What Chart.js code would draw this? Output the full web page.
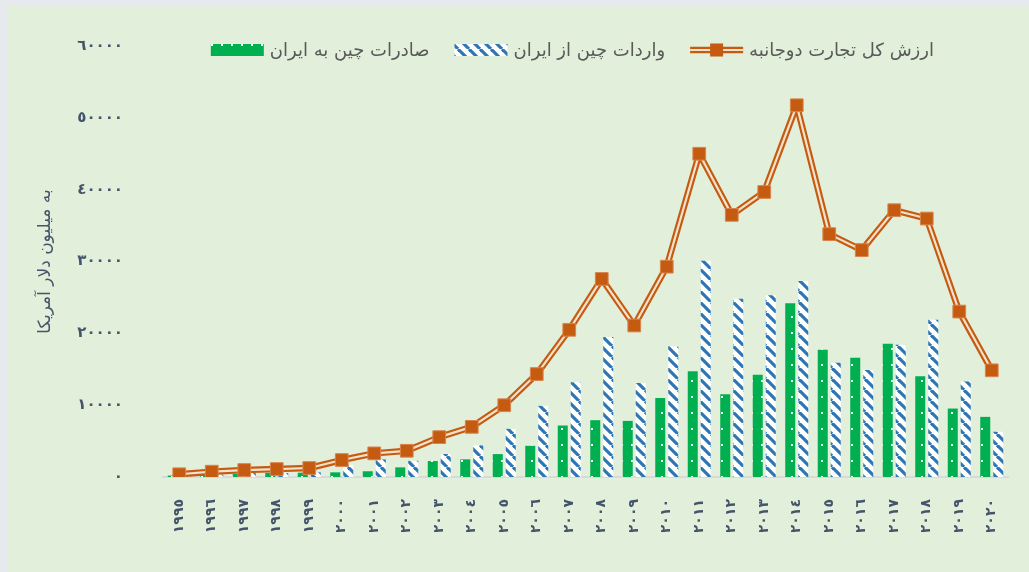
<!DOCTYPE html>
<html>
<head>
<meta charset="utf-8">
<script src="https://cdn.jsdelivr.net/npm/chart.js@4.4.1/dist/chart.umd.min.js"></script>
<style>
  html, body { margin: 0; padding: 0; background: #E6E9EE; }
  #wrap { position: absolute; left: 7px; top: 5px; width: 1022px; height: 567px; background: #E2EFDA; }
</style>
</head>
<body>
<div id="wrap"><canvas id="tradeChart"></canvas></div>
<script>
// --- Data (million USD) ---
const years = ['1995','1996','1997','1998','1999','2000','2001','2002','2003','2004','2005','2006','2007',
               '2008','2009','2010','2011','2012','2013','2014','2015','2016','2017','2018','2019','2020'];
const exportsToIran = [200, 400, 430, 580, 600, 650, 800, 1340, 2220, 2460, 3190, 4340, 7170,
                       7910, 7810, 11000, 14710, 11520, 14250, 24190, 17710, 16600, 18550, 14010, 9530, 8370];
const importsFromIran = [170, 340, 540, 530, 650, 1700, 2450, 2250, 3200, 4400, 6700, 9900, 13200,
                         19500, 13100, 18200, 30100, 24800, 25300, 27300, 15900, 14900, 18400, 21900, 13300, 6300];
const totalTrade = [380, 740, 970, 1110, 1250, 2360, 3290, 3650, 5550, 6980, 9990, 14330, 20490,
                    27570, 21090, 29280, 45000, 36490, 39680, 51750, 33810, 31590, 37140, 35980, 23030, 14850];
const yTicks = [0, 10000, 20000, 30000, 40000, 50000, 60000];

const labelExports = 'صادرات چین به ایران';
const labelImports = 'واردات چین از ایران';
const labelTotal = 'ارزش کل تجارت دوجانبه';
const yTitle = 'به میلیون دلار آمریکا';

const ORANGE = '#C55A11', ORANGE_IN = '#F3E1CC', GREEN = '#00B050', BLUE = '#2E75B6', TEXT = '#44546A';
const FONT = '"DejaVu Sans", sans-serif';

const toFa = v => String(v).replace(/\d/g, d => '٠١٢٣٤٥٦٧٨٩'[d]);

// --- Fill patterns ---
function dotPattern() {
    const c = document.createElement('canvas'); c.width = 10; c.height = 16;
    const g = c.getContext('2d');
    g.fillStyle = GREEN; g.fillRect(0, 0, 10, 16);
    g.fillStyle = '#FFFFFF'; g.fillRect(4, 7, 2, 2);
    return g.createPattern(c, 'repeat');
}
function hatchPattern() {
    const s = 11;
    const c = document.createElement('canvas'); c.width = s; c.height = s;
    const g = c.getContext('2d');
    g.fillStyle = '#FFFFFF'; g.fillRect(0, 0, s, s);
    g.strokeStyle = BLUE; g.lineWidth = 3.2;
    for (let k = -1; k <= 1; k++) { g.beginPath(); g.moveTo(k * s, 0); g.lineTo(k * s + s, s); g.stroke(); }
    return g.createPattern(c, 'repeat');
}
const greenFill = dotPattern();
const blueFill = hatchPattern();

// --- Legend drawn inside the plot, right to left like the original ---
const topLegend = {
    id: 'topLegend',
    afterDraw(chart) {
        const ctx = chart.ctx;
        const items = [
            { text: labelTotal, kind: 'line' },
            { text: labelImports, kind: 'hatch' },
            { text: labelExports, kind: 'dots' }
        ];
        ctx.save();
        ctx.font = '18px ' + FONT;
        ctx.textBaseline = 'middle';
        ctx.textAlign = 'right';
        let x = 927;
        const y = 45;
        items.forEach(it => {
            ctx.fillStyle = '#595959';
            ctx.fillText(it.text, x, y + 1);
            x -= ctx.measureText(it.text).width + 6;
            const sx = x - 53;
            if (it.kind === 'line') {
                ctx.strokeStyle = ORANGE; ctx.lineWidth = 6.5;
                ctx.beginPath(); ctx.moveTo(sx, y); ctx.lineTo(x, y); ctx.stroke();
                ctx.strokeStyle = ORANGE_IN; ctx.lineWidth = 2.2;
                ctx.beginPath(); ctx.moveTo(sx, y); ctx.lineTo(x, y); ctx.stroke();
                ctx.fillStyle = ORANGE; ctx.fillRect(sx + 20, y - 6.5, 13, 13);
            } else {
                ctx.fillStyle = it.kind === 'dots' ? greenFill : blueFill;
                ctx.fillRect(sx, y - 6, 53, 12);
            }
            x = sx - 25;
        });
        ctx.restore();
    }
};

new Chart(document.getElementById('tradeChart'), {
    type: 'bar',
    data: {
        labels: years,
        datasets: [
            { type: 'line', label: labelTotal, data: totalTrade, order: 1, showLine: false,
              pointStyle: 'rect', pointRadius: 9, pointBackgroundColor: ORANGE,
              pointBorderColor: '#D9844C', pointBorderWidth: 1, borderColor: ORANGE },
            { type: 'line', label: labelTotal + ' (in)', data: totalTrade, order: 2,
              borderColor: ORANGE_IN, borderWidth: 2.2, pointRadius: 0, tension: 0, borderJoinStyle: 'bevel' },
            { type: 'line', label: labelTotal + ' (out)', data: totalTrade, order: 3,
              borderColor: ORANGE, borderWidth: 6.5, pointRadius: 0, tension: 0, borderJoinStyle: 'bevel' },
            { label: labelExports, data: exportsToIran, order: 4, backgroundColor: greenFill,
              categoryPercentage: 0.8, barPercentage: 0.77 },
            { label: labelImports, data: importsFromIran, order: 5, backgroundColor: blueFill,
              categoryPercentage: 0.8, barPercentage: 0.77 }
        ]
    },
    options: {
        responsive: true,
        maintainAspectRatio: false,
        animation: false,
        layout: { padding: { left: 20, top: 40, right: 21, bottom: 40 } },
        plugins: { legend: { display: false }, tooltip: { enabled: false } },
        scales: {
            x: {
                grid: { display: false },
                border: { color: '#D9D9D9', width: 2 },
                ticks: { color: TEXT, font: { family: FONT, weight: 'bold', size: 14 },
                         minRotation: 90, maxRotation: 90, padding: 14, autoSkip: false,
                         callback: function(v) { return toFa(this.getLabelForValue(v)); } },
                afterFit: s => { s.height = 55; }
            },
            y: {
                min: 0, max: 60000,
                grid: { display: false },
                border: { display: false },
                afterBuildTicks: s => { s.ticks = yTicks.map(v => ({ value: v })); },
                ticks: { color: TEXT, font: { family: FONT, weight: 'bold', size: 15 }, padding: 32,
                         callback: v => toFa(v) },
                title: { display: true, text: yTitle, color: TEXT, padding: { top: 8, bottom: 0 },
                         font: { family: FONT, size: 17 } },
                afterFit: s => { s.width = 136; }
            }
        }
    },
    plugins: [topLegend]
});
</script>
</body>
</html>
